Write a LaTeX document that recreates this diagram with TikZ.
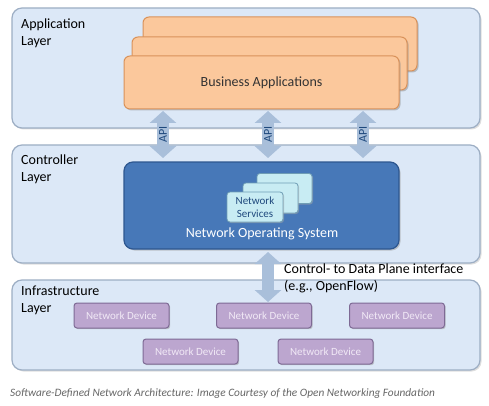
\documentclass[tikz,border=0pt]{standalone}
\usepackage{fontspec}
\setmainfont{Carlito}
\usetikzlibrary{arrows.meta,shadows,positioning}

\definecolor{layerfill}{HTML}{DCE8F7}
\definecolor{layerline}{HTML}{9DAEC4}
\definecolor{appfill}{HTML}{FBC89C}
\definecolor{appline}{HTML}{D9925A}
\definecolor{nosfill}{HTML}{4778B8}
\definecolor{nosline}{HTML}{2E5790}
\definecolor{svcfill}{HTML}{C8ECF3}
\definecolor{svcline}{HTML}{6F9DB5}
\definecolor{devfill}{HTML}{BCA6CF}
\definecolor{devline}{HTML}{7E6A95}
\definecolor{devtext}{HTML}{F1E9F6}
\definecolor{arrowblue}{HTML}{A9BFDA}
\definecolor{apitext}{HTML}{1F497D}

\begin{document}
\begin{tikzpicture}
        [x=1pt, y=-1pt,
        layer/.style={draw=layerline, fill=layerfill, line width=1.2pt, rounded corners=10pt,
          drop shadow={shadow xshift=1.5pt, shadow yshift=-1.5pt, fill=black!25}},
        layertext/.style={anchor=north west, align=left, inner sep=0pt, font=\fontsize{14}{17}\selectfont},
        appbox/.style={draw=appline, fill=appfill, line width=1pt, rounded corners=6pt,
          minimum width=275pt, minimum height=53pt,
          drop shadow={shadow xshift=1.5pt, shadow yshift=-1.5pt, fill=black!45}},
        nosbox/.style={draw=nosline, fill=nosfill, line width=1.2pt, rounded corners=9pt,
          minimum width=275pt, minimum height=87pt,
          drop shadow={shadow xshift=1.5pt, shadow yshift=-1.5pt, fill=black!40}},
        svcbox/.style={draw=svcline, fill=svcfill, line width=0.8pt, rounded corners=3pt,
          minimum width=55pt, minimum height=30pt, align=center, text=apitext,
          font=\fontsize{11}{13}\selectfont, inner sep=1pt,
          drop shadow={shadow xshift=1pt, shadow yshift=-1pt, fill=black!35}},
        devbox/.style={draw=devline, fill=devfill, line width=1pt, rounded corners=3pt,
          minimum width=95pt, minimum height=25pt, text=devtext,
          font=\fontsize{11}{13}\selectfont,
          drop shadow={shadow xshift=1.2pt, shadow yshift=-1.2pt, fill=black!40}},
        bigarrow/.style={draw=arrowblue, line width=12pt,
          {Triangle[width=26pt,length=12pt]}-{Triangle[width=26pt,length=12pt]}}]

        \useasboundingbox (0,0) rectangle (489,406);
        \fill[white] (0,0) rectangle (489,406);

        % the three layers
        \node[layer, minimum width=468pt, minimum height=120pt] (applayer) at (246,68) {};
        \node[layer, minimum width=468pt, minimum height=118pt] (ctllayer) at (246,204) {};
        \node[layer, minimum width=468pt, minimum height=90pt] (inflayer) at (246,325) {};

        \node[layertext] (applabel) at (21,19) {Application\\Layer};
        \node[layertext] (ctllabel) at (21,155) {Controller\\Layer};
        \node[layertext] (inflabel) at (21,286) {Infrastructure\\Layer};

        % business applications (stacked)
        \node[appbox, minimum width=274pt, minimum height=54pt] (appC) at (280,44) {};
        \node[appbox] (appB) at (269.5,63.5) {};
        \node[appbox, font=\fontsize{14}{16}\selectfont, text=black!80] (appA) at (261.5,82.5) {Business Applications};

        % network operating system
        \node[nosbox] (nos) at (261.5,205.5) {};
        \node[text=white, font=\fontsize{14}{16}\selectfont] (noslabel) at (262,234) {Network Operating System};

        \node[svcbox] (svcC) at (284.5,188.5) {};
        \node[svcbox] (svcB) at (270.5,198) {};
        \node[svcbox, minimum width=56pt] (svcA) at (255,207) {Network\\Services};

        % northbound interfaces
        \foreach \x/\n in {163/1, 268/2, 363/3} {
          \coordinate (apitop\n) at (\x,111);
          \coordinate (apibot\n) at (\x,158);
          \draw[bigarrow] (apitop\n) -- (apibot\n)
            node[midway, rotate=90, text=apitext, font=\fontsize{12}{14}\selectfont] {API};
        }

        % southbound interface
        \coordinate (sbtop) at (268,252);
        \coordinate (sbbot) at (268,302);
        \draw[bigarrow] (sbtop) -- (sbbot);
        \node[anchor=north west, align=left, inner sep=0pt, font=\fontsize{14}{16.5}\selectfont]
          (sblabel) at (284,264) {Control- to Data Plane interface\\(e.g., OpenFlow)};

        % network devices
        \node[devbox] (dev1) at (121.5,315.5) {Network Device};
        \node[devbox] (dev2) at (264,315.5) {Network Device};
        \node[devbox] (dev3) at (397,315.5) {Network Device};
        \node[devbox] (dev4) at (190.5,351.5) {Network Device};
        \node[devbox] (dev5) at (325.5,351.5) {Network Device};

        % caption
        \node[anchor=base west, inner sep=0pt, text=black!60, font=\fontsize{11.3}{13}\selectfont\itshape]
          (caption) at (10,396) {Software-Defined Network Architecture: Image Courtesy of the Open Networking Foundation};

        \end{tikzpicture}
\end{document}
